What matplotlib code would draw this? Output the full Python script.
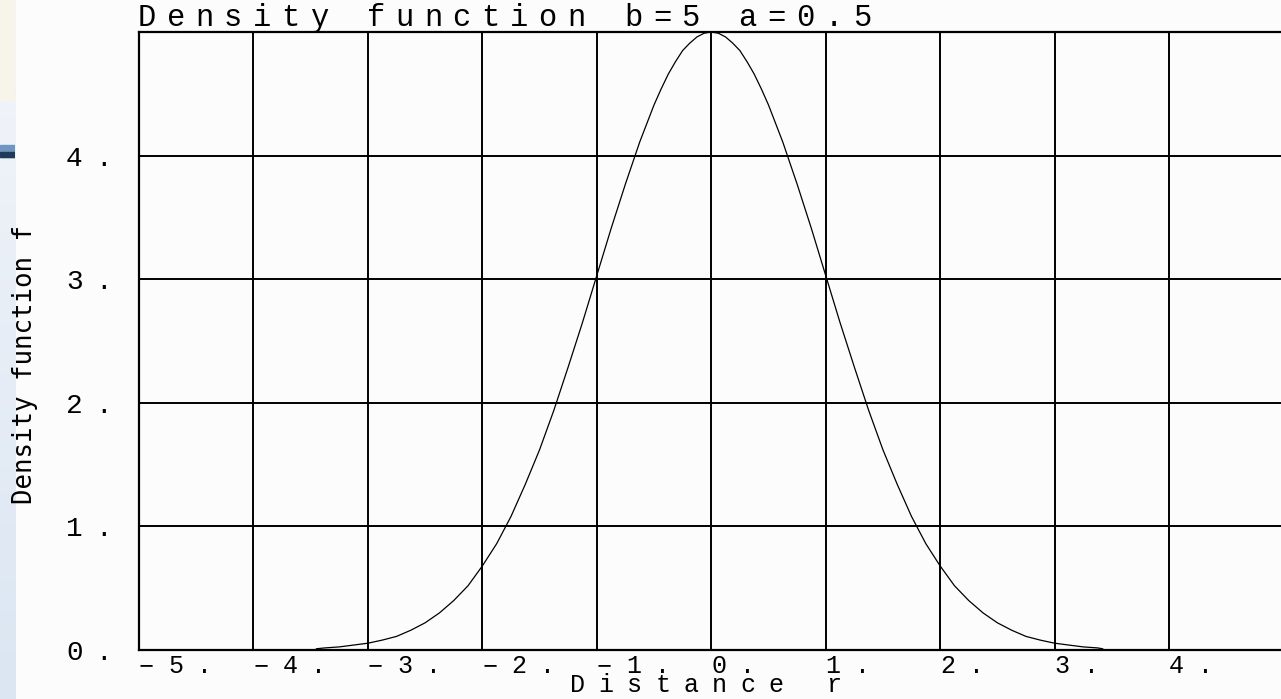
"""Density function plot, old plotter style (b=5, a=0.5)."""

import matplotlib

matplotlib.use("Agg")

import matplotlib.pyplot as plt
import matplotlib.transforms as mtransforms
import numpy as np

# curve values
r_vals = [-3.45, -3.375, -3.25, -3.125, -3.0, -2.875, -2.75, -2.625, -2.5, -2.375,
          -2.25, -2.125, -2.0, -1.875, -1.75, -1.625, -1.5, -1.375, -1.25, -1.125,
          -1.0, -0.875, -0.75, -0.625, -0.5, -0.4375, -0.375, -0.3125, -0.25,
          -0.1875, -0.125, -0.0625, 0.0,
          0.0625, 0.125, 0.1875, 0.25, 0.3125, 0.375, 0.4375, 0.5,
          0.625, 0.75, 0.875, 1.0, 1.125, 1.25,
          1.375, 1.5, 1.625, 1.75, 1.875, 2.0, 2.125, 2.25, 2.375, 2.5,
          2.625, 2.75, 2.875, 3.0, 3.125, 3.25, 3.375, 3.42]
f_vals = [0.01, 0.017, 0.025, 0.04, 0.055, 0.08, 0.11, 0.16, 0.22, 0.30,
          0.40, 0.52, 0.68, 0.86, 1.08, 1.34, 1.62, 1.94, 2.29, 2.65,
          3.03, 3.41, 3.77, 4.11, 4.41, 4.54, 4.66, 4.76, 4.85,
          4.91, 4.96, 4.99, 5.00,
          4.99, 4.96, 4.91, 4.85, 4.76, 4.66, 4.54, 4.41,
          4.11, 3.77, 3.41, 3.03, 2.65, 2.29,
          1.94, 1.62, 1.34, 1.08, 0.86, 0.68, 0.52, 0.40, 0.30, 0.22,
          0.16, 0.11, 0.08, 0.055, 0.04, 0.025, 0.017, 0.01]

x_ticks = [-5, -4, -3, -2, -1, 0, 1, 2, 3, 4]
x_tick_labels = ["\u22125.", "\u22124.", "\u22123.", "\u22122.", "\u22121.",
                 "0.", "1.", "2.", "3.", "4."]
y_ticks = [0, 1, 2, 3, 4]
y_tick_labels = ["0.", "1.", "2.", "3.", "4."]

title = "Density function b=5 a=0.5"
x_label = "Distance r"
y_label = "Density function f"

W, H = 1281, 699
MONO = "Liberation Mono"


def spaced_text(ax, s, xy, xycoords, pitch, dy=0, **kw):
    # plotter fonts have a fixed wide pitch; place each char on its own
    for i, ch in enumerate(s):
        if ch == " ":
            continue
        ax.annotate(ch, xy=xy, xycoords=xycoords, xytext=(i * pitch, dy),
                    textcoords="offset pixels", ha="left", va="center",
                    family=MONO, color="black", annotation_clip=False, **kw)


fig = plt.figure(figsize=(W / 100, H / 100), dpi=100, facecolor="#fcfcfc")

# bit of slide background on the left edge
bg = fig.add_axes([0, 0, 15 / W, 1], zorder=-5)
grad = np.linspace(0, 1, 256).reshape(-1, 1)
bg.imshow(grad, aspect="auto", cmap=matplotlib.colors.LinearSegmentedColormap.from_list(
    "strip", ["#dbe6f2", "#f3f5fa"]), extent=[0, 1, 0, 1], origin="lower")
bg.axhspan(1 - 157 / H, 1 - 145 / H, color="#6f96c0")
bg.axhspan(1 - 157 / H, 1 - 152 / H, color="#203a58")
bg.axhspan(1 - 100 / H, 1, color="#f7f5ea")
bg.set_xlim(0, 1)
bg.set_ylim(0, 1)
bg.axis("off")

left, right, top, bottom = 139, 1283.5, 32, 650
ax = fig.add_axes([left / W, 1 - bottom / H, (right - left) / W, (bottom - top) / H])
ax.set_facecolor("#fcfcfc")

ax.plot(r_vals, f_vals, color="black", lw=0.9)

ax.set_xlim(-5, 5)
ax.set_ylim(0, 5)
ax.set_xticks(x_ticks)
ax.set_yticks(y_ticks)
ax.tick_params(length=0, labelbottom=False, labelleft=False)
ax.grid(True, color="black", lw=1.4)
ax.set_axisbelow(True)
for side in ["left", "top", "bottom"]:
    ax.spines[side].set_linewidth(1.6)
ax.spines["right"].set_visible(False)

# tick labels, left aligned at the tick like the plotter did
xt = ax.get_xaxis_transform()
for t, lab in zip(x_ticks, x_tick_labels):
    spaced_text(ax, lab, (t, 0), xt, 29, dy=-16, fontsize=18)

yt = mtransforms.blended_transform_factory(fig.transFigure, ax.transData)
for t, lab in zip(y_ticks, y_tick_labels):
    spaced_text(ax, lab, (66 / W, t), yt, 29, dy=-3, fontsize=20)

spaced_text(ax, title, (138 / W, 1 - 18 / H), fig.transFigure, 28.6, fontsize=22)
spaced_text(ax, x_label, (570 / W, 1 - 685 / H), fig.transFigure, 28.4, fontsize=18)

fig.text(25 / W, 1 - 365 / H, y_label, rotation=90, ha="center", va="center",
         family="DejaVu Sans Mono", fontsize=18.5, color="black")

fig.savefig("out.png", dpi=100, facecolor=fig.get_facecolor())
